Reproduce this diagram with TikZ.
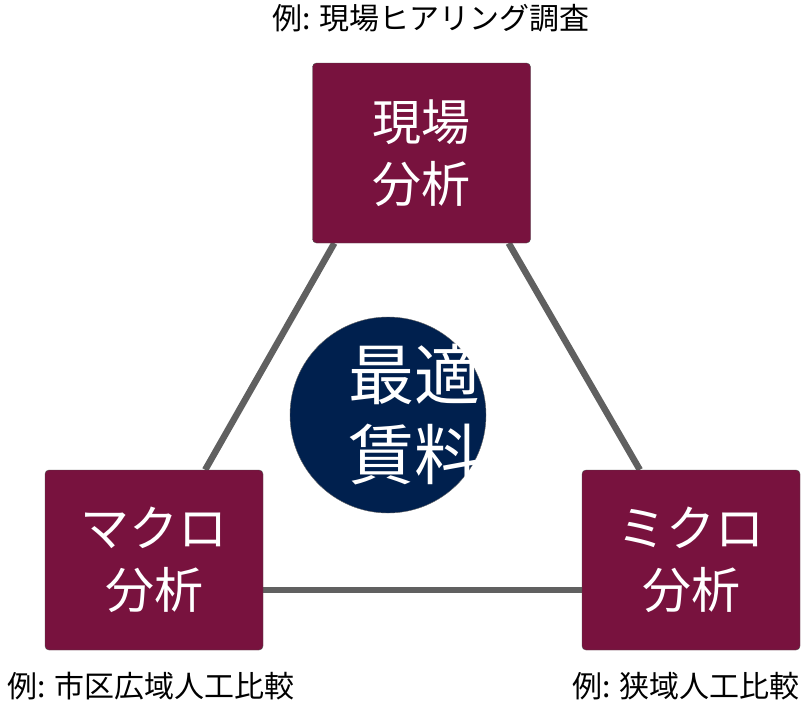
\documentclass[tikz,border=0pt]{standalone}
\usepackage{fontspec}
\setmainfont{Noto Sans CJK JP}
\usetikzlibrary{backgrounds,positioning}
\definecolor{boxred}{HTML}{78123E}
\definecolor{navy}{HTML}{00204E}
\definecolor{linegray}{HTML}{606060}
\begin{document}
\begin{tikzpicture}[x=1pt,y=-1pt,
    every node/.style={inner sep=0pt},
    area/.style={draw=black!70, fill=boxred, rounded corners=4pt, minimum width=218pt,
      minimum height=180pt, text=white, align=center, font=\fontsize{49}{62}\selectfont},
    note/.style={font=\fontsize{30}{34}\selectfont},
    link/.style={draw=linegray, line width=6.5pt}
    ]
    \useasboundingbox (0,0) rectangle (802,704);

    \node[area] (top) at (421.5,153) {現場\\分析};
    \node[area] (left) at (154,560) {マクロ\\分析};
    \node[area] (right) at (691,560) {ミクロ\\分析};
    \node[circle, draw=black!60, fill=navy, minimum size=196pt] (goal) at (388,415) {};
    \node[text=white, align=center, font=\fontsize{66}{80}\selectfont,
      right=-2pt of goal.center, anchor=center, xshift=28pt] (goaltext) {最適\\賃料};

    \node[note] (ntop) at (431,18) {例: 現場ヒアリング調査};
    \node[note] (nleft) at (151,686) {例: 市区広域人工比較};
    \node[note] (nright) at (686,686) {例: 狭域人工比較};

    \begin{scope}[on background layer]
      \draw[link] ([xshift=22pt]top.south west) -- ([xshift=-58pt]left.north east);
      \draw[link] ([xshift=-22pt]top.south east) -- ([xshift=58pt]right.north west);
      \draw[link] ([yshift=-30pt]left.east) -- ([yshift=-30pt]right.west);
    \end{scope}
\end{tikzpicture}
\end{document}
